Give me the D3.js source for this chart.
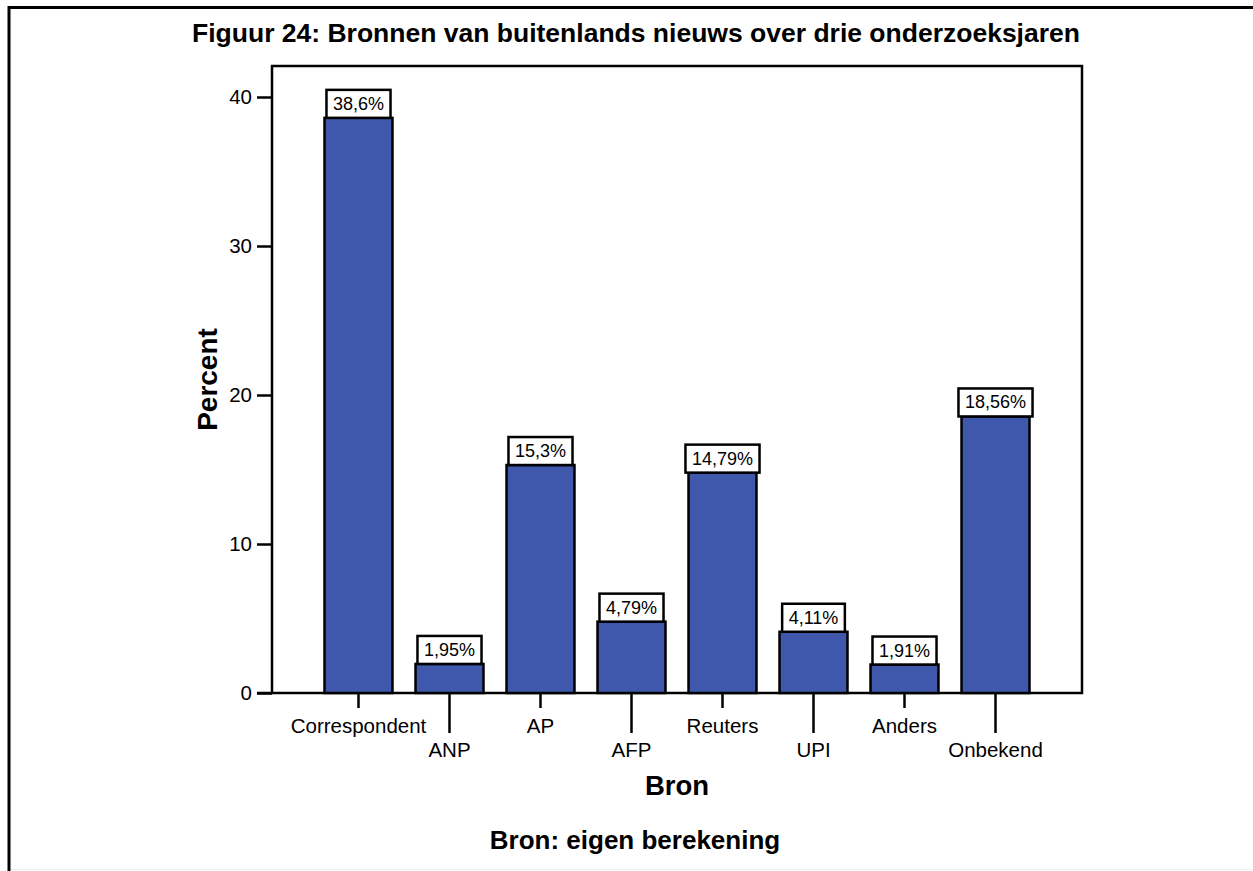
<!DOCTYPE html>
<html>
<head>
<meta charset="utf-8">
<script src="https://cdn.jsdelivr.net/npm/d3@7"></script>
<style>
  html, body { margin: 0; padding: 0; background: #fff; }
  svg { display: block; font-family: "Liberation Sans", Arial, sans-serif; }
</style>
</head>
<body>
<svg id="chart" width="1253" height="871"></svg>
<script>
const categories = ["Correspondent", "ANP", "AP", "AFP", "Reuters", "UPI", "Anders", "Onbekend"];
const values = [38.6, 1.95, 15.3, 4.79, 14.79, 4.11, 1.91, 18.56];
const valueLabels = ["38,6%", "1,95%", "15,3%", "4,79%", "14,79%", "4,11%", "1,91%", "18,56%"];
const yTicks = [0, 10, 20, 30, 40];
const titleText = "Figuur 24: Bronnen van buitenlands nieuws over drie onderzoeksjaren";
const xTitle = "Bron";
const yTitle = "Percent";
const captionText = "Bron: eigen berekening";

const svg = d3.select("#chart");
const W = 1253, H = 871;
const plot = { left: 272, right: 1082, top: 66, bottom: 693 };

// outer frame
svg.append("line").attr("x1", 9).attr("x2", W).attr("y1", 7.5).attr("y2", 7.5)
  .attr("stroke", "#000").attr("stroke-width", 3);
svg.append("line").attr("x1", 9).attr("x2", 9).attr("y1", 6).attr("y2", H)
  .attr("stroke", "#000").attr("stroke-width", 3);
svg.append("line").attr("x1", 11).attr("x2", W).attr("y1", 869.5).attr("y2", 869.5)
  .attr("stroke", "#eeeeee").attr("stroke-width", 1);

// title
svg.append("text").attr("x", 636).attr("y", 42).attr("text-anchor", "middle")
  .attr("font-size", 26.5).attr("font-weight", "bold").text(titleText);

const x = d3.scaleBand().domain(categories).range([plot.left, plot.right])
  .paddingInner(0.253).paddingOuter(0.577);
const y = d3.scaleLinear().domain([0, (plot.bottom - plot.top) / 14.9]).range([plot.bottom, plot.top]);

// plot frame
svg.append("rect").attr("x", plot.left).attr("y", plot.top)
  .attr("width", plot.right - plot.left).attr("height", plot.bottom - plot.top)
  .attr("fill", "none").attr("stroke", "#000").attr("stroke-width", 2.5);

// bars
svg.append("g").selectAll("rect").data(categories).join("rect")
  .attr("x", d => x(d))
  .attr("y", (d, i) => y(values[i]))
  .attr("width", x.bandwidth())
  .attr("height", (d, i) => y(0) - y(values[i]))
  .attr("fill", "#3f58ab").attr("stroke", "#000").attr("stroke-width", 2.5);

// value labels
const lab = svg.append("g").selectAll("g").data(categories).join("g");
lab.each(function(d, i) {
  const g = d3.select(this);
  const cx = x(d) + x.bandwidth() / 2;
  const top = y(values[i]);
  const t = g.append("text").attr("x", cx).attr("y", top - 8)
    .attr("text-anchor", "middle").attr("font-size", 18).text(valueLabels[i]);
  const w = t.node().getComputedTextLength() + 13;
  g.insert("rect", "text").attr("x", cx - w / 2).attr("y", top - 28)
    .attr("width", w).attr("height", 28)
    .attr("fill", "#fff").attr("stroke", "#000").attr("stroke-width", 2.5);
});

// y axis
const yAxis = svg.append("g").attr("transform", `translate(${plot.left},0)`)
  .call(d3.axisLeft(y).tickValues(yTicks).tickSize(15).tickPadding(5));
yAxis.select(".domain").remove();
yAxis.selectAll("line").attr("stroke", "#000").attr("stroke-width", 2.5);
yAxis.selectAll("text").attr("font-size", 20.5).attr("fill", "#000")
  .attr("font-family", "Liberation Sans, Arial, sans-serif");
// extend baseline to the left tick
svg.append("line").attr("x1", plot.left - 15).attr("x2", plot.left)
  .attr("y1", plot.bottom).attr("y2", plot.bottom).attr("stroke", "#000").attr("stroke-width", 2.5);

// x axis
const xAxis = svg.append("g").attr("transform", `translate(0,${plot.bottom})`)
  .call(d3.axisBottom(x).tickSize(15).tickPadding(6));
xAxis.select(".domain").remove();
xAxis.selectAll(".tick line").attr("stroke", "#000").attr("stroke-width", 2.5)
  .attr("y2", (d, i) => i % 2 ? 40 : 15);
xAxis.selectAll(".tick text").attr("font-size", 20.5).attr("fill", "#000")
  .attr("font-family", "Liberation Sans, Arial, sans-serif")
  .attr("dy", null)
  .attr("y", (d, i) => i % 2 ? 64 : 40);

// axis titles
svg.append("text").attr("x", (plot.left + plot.right) / 2).attr("y", 795)
  .attr("text-anchor", "middle").attr("font-size", 27.5).attr("font-weight", "bold").text(xTitle);
svg.append("text").attr("transform", `translate(217,${(plot.top + plot.bottom) / 2}) rotate(-90)`)
  .attr("text-anchor", "middle").attr("font-size", 28).attr("font-weight", "bold").text(yTitle);

// caption
svg.append("text").attr("x", 635).attr("y", 849).attr("text-anchor", "middle")
  .attr("font-size", 26).attr("font-weight", "bold").text(captionText);
</script>
</body>
</html>
